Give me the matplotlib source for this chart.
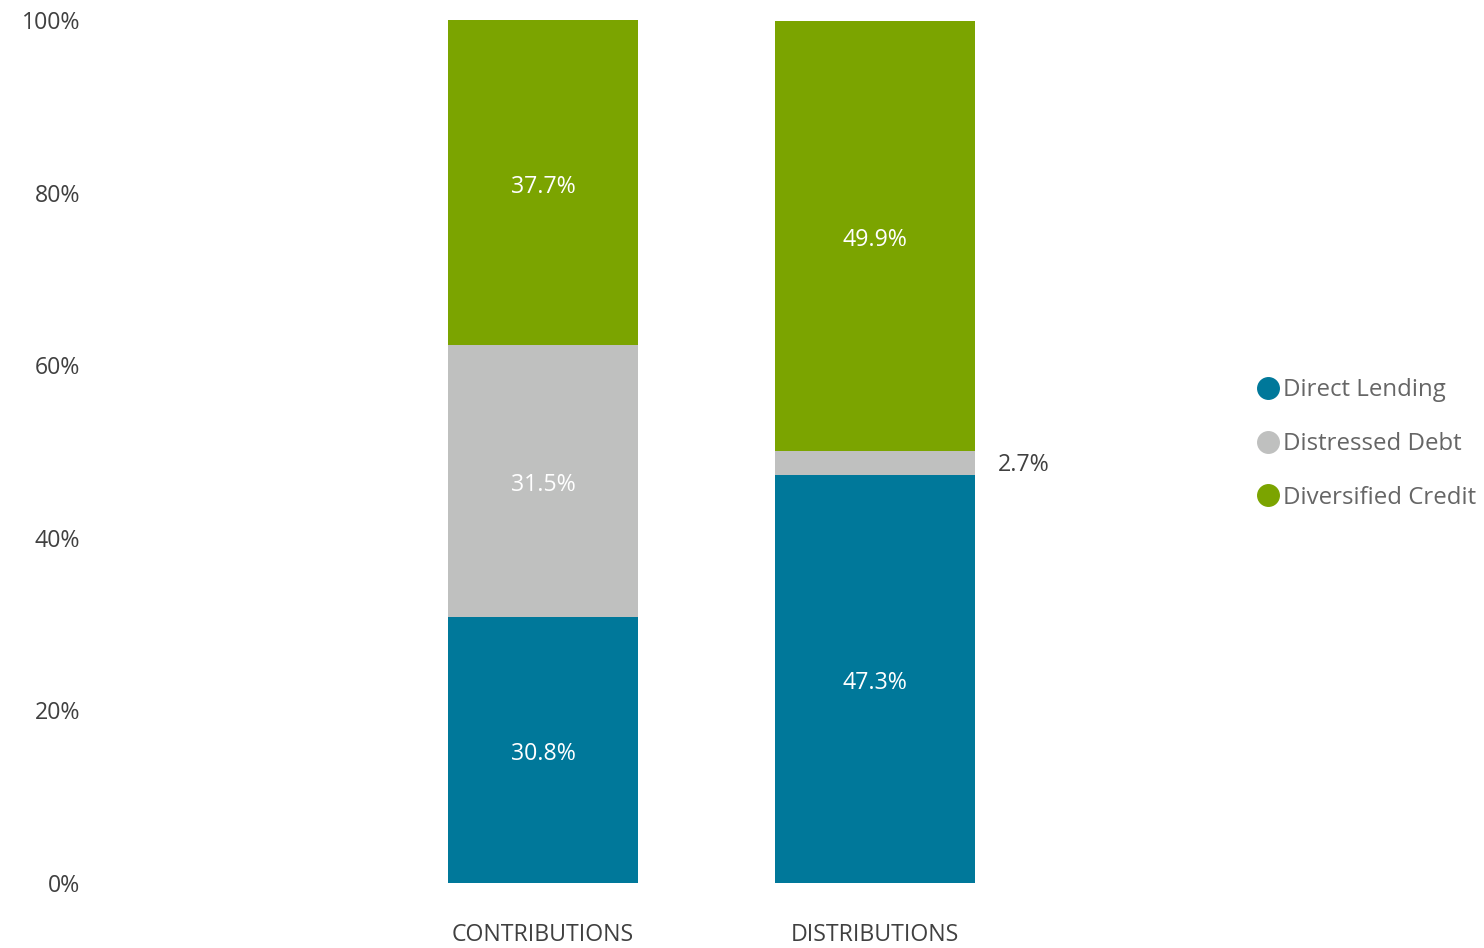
import matplotlib
matplotlib.use("Agg")
import matplotlib.pyplot as plt
from matplotlib.lines import Line2D

categories = ["CONTRIBUTIONS", "DISTRIBUTIONS"]
series_names = ["Direct Lending", "Distressed Debt", "Diversified Credit"]
direct_lending = [30.8, 47.3]
distressed_debt = [31.5, 2.7]
diversified_credit = [37.7, 49.9]
colors = ["#00789A", "#BFC0BF", "#7BA400"]
y_ticks = [0, 20, 40, 60, 80, 100]

plt.rcParams['font.family'] = ['Open Sans', 'DejaVu Sans']

W, H = 1484, 948
fig = plt.figure(figsize=(W / 100, H / 100), dpi=100)
left_px, right_px, top_px, bottom_px = 95, 1240, 20, 883
ax = fig.add_axes([left_px / W, 1 - bottom_px / H, (right_px - left_px) / W, (bottom_px - top_px) / H])

x_c0, x_c1 = 543, 875
scale = x_c1 - x_c0
ax.set_xlim(-(x_c0 - left_px) / scale, 1 + (right_px - x_c1) / scale)
ax.set_ylim(0, 100)

xs = list(range(len(categories)))
widths = [0.57, 0.60]
fs = 16.7
bottoms = [0.0] * len(categories)
all_series = [direct_lending, distressed_debt, diversified_credit]
for vals, col, name in zip(all_series, colors, series_names):
    ax.bar(xs, vals, width=widths, bottom=bottoms, color=col, label=name, linewidth=0)
    for i, v in enumerate(vals):
        yc = bottoms[i] + v / 2
        txt = f"{v:.1f}%"
        if v < 5:
            ax.annotate(txt, (xs[i] + widths[i] / 2, yc), xytext=(17, -1),
                        textcoords="offset points", ha="left", va="center",
                        fontsize=fs, color="#404040")
        else:
            ax.annotate(txt, (xs[i], yc), xytext=(0, -3), textcoords="offset points",
                        ha="center", va="center", fontsize=fs, color="white")
    bottoms = [b + v for b, v in zip(bottoms, vals)]

ax.set_yticks(y_ticks)
ax.set_yticklabels([f"{t}%" for t in y_ticks], fontsize=fs, color="#404040")
ax.set_xticks(xs)
ax.set_xticklabels(categories, fontsize=fs, color="#404040")
ax.tick_params(axis="both", length=0)
ax.tick_params(axis="y", pad=10.5)
ax.tick_params(axis="x", pad=29)
for s in ax.spines.values():
    s.set_visible(False)

handles = [Line2D([0], [0], marker="o", linestyle="none", markersize=15.5,
                  markerfacecolor=c, markeredgecolor=c) for c in colors]
leg = fig.legend(handles, series_names, loc="center left",
                 bbox_to_anchor=(1254 / W, 1 - 444 / H), frameon=False,
                 fontsize=17.3, handletextpad=0.0, labelspacing=1.24,
                 handlelength=1.2, borderaxespad=0, borderpad=0)
for t in leg.get_texts():
    t.set_color("#666666")

fig.savefig("out.png", dpi=100)
